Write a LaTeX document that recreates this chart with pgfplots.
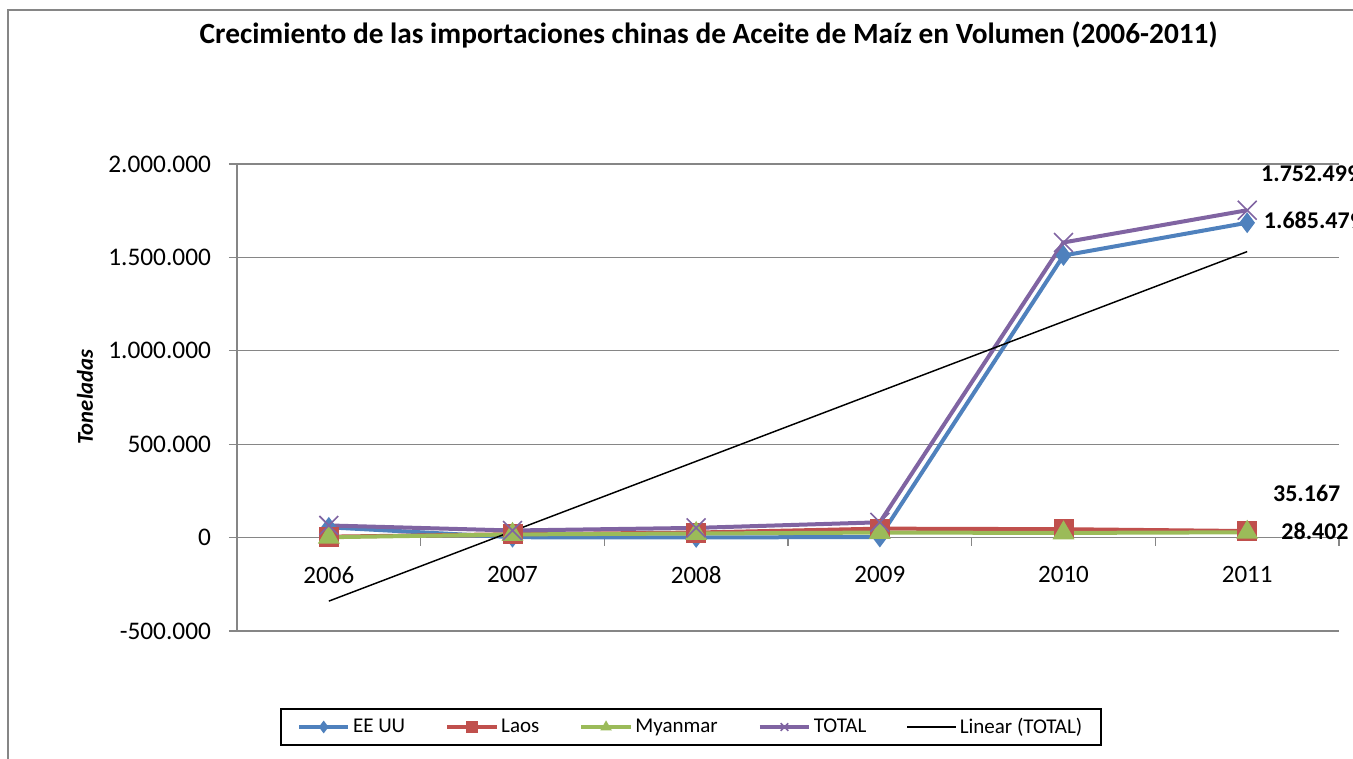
\documentclass[border=0pt]{standalone}
\usepackage{pgfplots}
\pgfplotsset{compat=1.18}
\usepackage{fontspec}
\setmainfont{Carlito}
\definecolor{cblue}{RGB}{79,129,189}
\definecolor{cred}{RGB}{192,80,77}
\definecolor{cgreen}{RGB}{155,187,89}
\definecolor{cpurple}{RGB}{128,100,162}
\definecolor{cgrid}{RGB}{134,134,134}
\begin{document}
\begin{tikzpicture}
\clip (0,0) rectangle (1014.75pt,568.5pt);
\draw[cgrid, line width=1.5pt] (6pt,-10pt) -- (6pt,561pt) -- (1030pt,561pt);
\begin{axis}[
  at={(177.75pt,95.25pt)}, anchor=south west,
  scale only axis, width=826.5pt, height=350.25pt,
  clip=false,
  xmin=-0.5, xmax=5.5, ymin=-500000, ymax=2000000,
  axis x line=middle, axis y line=left,
  axis line style={cgrid, line width=1pt, -},
  hide obscured x ticks=false, hide obscured y ticks=false,
  xtick={0,1,2,3,4,5}, xticklabels={2006,2007,2008,2009,2010,2011},
  minor xtick={0.5,1.5,2.5,3.5,4.5,5.5},
  major x tick style={draw=none},
  minor x tick style={cgrid, line width=1pt},
  minor tick length=6pt,
  ytick={-500000,0,500000,1000000,1500000,2000000},
  major tick length=6pt,
  tick align=outside,
  y tick style={cgrid, line width=1pt},
  ymajorgrids, grid style={cgrid, line width=1pt},
  scaled y ticks=false,
  /pgf/number format/.cd, fixed, 1000 sep={.}, assume math mode=true,
  /pgfplots/.cd,
  xticklabel style={yshift=-12pt, font=\fontsize{18.75}{22}\selectfont, black},
  yticklabel style={xshift=-10pt, font=\fontsize{19}{22}\selectfont, black},
  title={\textbf{Crecimiento de las importaciones chinas de Aceite de Maíz en Volumen (2006-2011)}},
  title style={at={(rel axis cs:0.428,1.259)}, anchor=center, font=\fontsize{22}{26}\selectfont},
  ylabel={\textbf{\textit{Toneladas}}},
  ylabel style={at={(rel axis cs:-0.138,0.501)}, anchor=center, font=\fontsize{17}{20}\selectfont},
  legend style={at={(0.412,-0.2056)}, anchor=center, legend columns=5, draw=black, line width=1pt,
    font=\fontsize{15.75}{18}\selectfont, inner ysep=5pt, inner xsep=12pt,
    /tikz/every even column/.append style={column sep=28pt}},
  legend image code/.code={\draw[mark repeat=2,mark phase=2,#1,mark size=4pt] plot coordinates {(0pt,0pt) (18.5pt,0pt) (37pt,0pt)};},
]
\addplot[cblue, line width=3pt, mark=diamond*, mark size=7pt, mark options={solid, fill=cblue, line width=1pt}]
  coordinates {(0,55000)(1,2000)(2,1000)(3,3000)(4,1510000)(5,1685479)};
\addlegendentry{EE UU}
\addplot[cred, line width=3pt, mark=square*, mark size=7pt, mark options={solid, fill=cred, line width=1pt}]
  coordinates {(0,5000)(1,18000)(2,27000)(3,48000)(4,45000)(5,35167)};
\addlegendentry{Laos}
\addplot[cgreen, line width=3pt, mark=triangle*, mark size=8.5pt, mark options={solid, fill=cgreen, line width=1pt}]
  coordinates {(0,2000)(1,17000)(2,22000)(3,27000)(4,25000)(5,28402)};
\addlegendentry{Myanmar}
\addplot[cpurple, line width=3pt, mark=x, mark size=10pt, mark options={solid, line width=1.2pt}]
  coordinates {(0,65000)(1,38000)(2,52000)(3,82000)(4,1580000)(5,1752499)};
\addlegendentry{TOTAL}
\addplot[black, line width=1.1pt, no marks]
  coordinates {(0,-340000)(5,1531000)};
\addlegendentry{Linear (TOTAL)}
\node[anchor=west, font=\fontsize{18}{21}\selectfont\bfseries, inner sep=0pt] at (axis cs:5.075,1948600) {1.752.499};
\node[anchor=west, font=\fontsize{18}{21}\selectfont\bfseries, inner sep=0pt] at (axis cs:5.09,1697000) {1.685.479};
\node[anchor=west, font=\fontsize{18}{21}\selectfont\bfseries, inner sep=0pt] at (axis cs:5.14,235500) {35.167};
\node[anchor=west, font=\fontsize{18}{21}\selectfont\bfseries, inner sep=0pt] at (axis cs:5.185,32100) {28.402};
\end{axis}
\end{tikzpicture}
\end{document}
